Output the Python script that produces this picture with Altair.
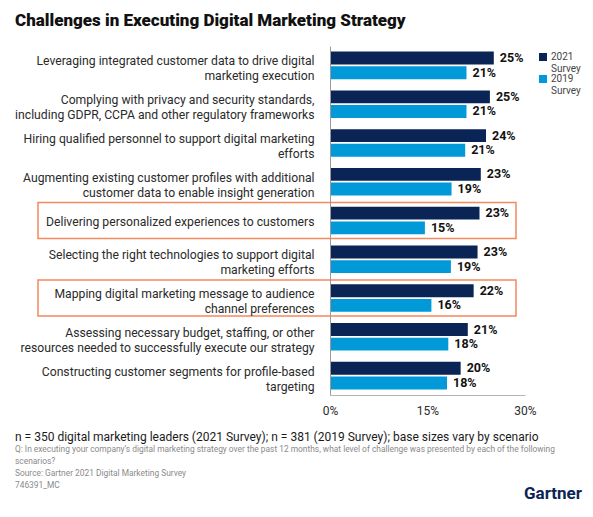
import altair as alt
import pandas as pd

categories = [
    "Leveraging integrated customer data to drive digital|marketing execution",
    "Complying with privacy and security standards,|including GDPR, CCPA and other regulatory frameworks",
    "Hiring qualified personnel to support digital marketing|efforts",
    "Augmenting existing customer profiles with additional|customer data to enable insight generation",
    "Delivering personalized experiences to customers",
    "Selecting the right technologies to support digital|marketing efforts",
    "Mapping digital marketing message to audience|channel preferences",
    "Assessing necessary budget, staffing, or other|resources needed to successfully execute our strategy",
    "Constructing customer segments for profile-based|targeting",
]
survey_2021 = [25.2, 24.6, 24.0, 23.2, 23.0, 22.7, 22.1, 21.2, 20.1]
survey_2019 = [21.0, 21.0, 20.8, 18.7, 14.6, 18.6, 15.6, 18.2, 18.0]
series = ["2021 Survey", "2019 Survey"]
highlighted = [categories[4], categories[6]]
x_ticks = [0, 15, 30]

title = "Challenges in Executing Digital Marketing Strategy"
base_note = "n = 350 digital marketing leaders (2021 Survey); n = 381 (2019 Survey); base sizes vary by scenario"
small_notes = [
    "Q: In executing your company\u2019s digital marketing strategy over the past 12 months, what level of challenge was presented by each of the following",
    "scenarios?",
    "Source: Gartner 2021 Digital Marketing Survey",
    "746391_MC",
]

rows = []
for cat, a, b in zip(categories, survey_2021, survey_2019):
    rows.append({"label": cat, "survey": series[0], "value": a})
    rows.append({"label": cat, "survey": series[1], "value": b})
df = pd.DataFrame(rows)
df["text"] = df["value"].round().astype(int).astype(str) + "%"

FONT = "Roboto"

y_enc = alt.Y(
    "label:N",
    sort=categories,
    title=None,
    scale=alt.Scale(paddingInner=0.29, paddingOuter=0.145),
    axis=alt.Axis(
        labelExpr="split(datum.label, '|')",
        labelFont=FONT,
        labelFontSize=12.2,
        labelColor="#2b2b2b",
        labelLineHeight=15,
        # two-line labels move up about half a line so they sit centred on the band
        labelOffset={"condition": {"test": "indexof(datum.value, '|') >= 0", "value": -4}, "value": 1.5},
        labelPadding=16,
        labelLimit=320,
        ticks=False,
        domainColor="#9a9a9a",
    ),
)
off_enc = alt.YOffset("survey:N", sort=series, scale=alt.Scale(paddingInner=0.12))
x_enc = alt.X(
    "value:Q",
    title=None,
    scale=alt.Scale(domain=[0, 30]),
    axis=alt.Axis(
        values=x_ticks,
        labelExpr="datum.value + '%'",
        labelFont=FONT,
        labelFontSize=12,
        labelColor="#2b2b2b",
        labelPadding=10,
        labelFlush=False,
        ticks=False,
        grid=False,
        domainColor="#b5b5b5",
    ),
)

base = alt.Chart(df)

bars = base.mark_bar().encode(
    y=y_enc,
    yOffset=off_enc,
    x=x_enc,
    color=alt.Color(
        "survey:N",
        sort=series,
        scale=alt.Scale(domain=series, range=["#0b2456", "#0199d8"]),
        legend=alt.Legend(
            title=None,
            orient="none",
            legendX=208,
            legendY=6,
            symbolType="square",
            symbolSize=64,
            symbolStrokeWidth=0,
            labelExpr="split(datum.label, ' ')",
            labelFont=FONT,
            labelFontSize=10,
            labelColor="#444444",
            labelBaseline="middle",
            labelOffset=3,
            rowPadding=-4,
        ),
    ),
)

labels = base.mark_text(
    align="left", baseline="middle", dx=6, font=FONT, fontSize=12.5, fontWeight="bold", color="#111111"
).encode(y=y_enc, yOffset=off_enc, x="value:Q", text="text:N")

boxes = (
    alt.Chart(pd.DataFrame({"label": highlighted}))
    .mark_rect(height=36, filled=False, stroke="#f4895e", strokeWidth=1.5)
    .encode(y=alt.Y("label:N", sort=categories), x=alt.value(-292), x2=alt.value(186))
)

note_n = alt.Chart(pd.DataFrame({"t": [base_note]})).mark_text(
    align="left", baseline="middle", font=FONT, fontSize=12, color="#1a1a1a"
).encode(text="t:N", x=alt.value(-315), y=alt.value(391))

note_small = alt.Chart(pd.DataFrame({"t": [0]})).mark_text(
    align="left", baseline="middle", font=FONT, fontSize=8.4, color="#8a8a8a", lineHeight=12
).encode(text=alt.value(small_notes), x=alt.value(-315), y=alt.value(403))

logo = alt.Chart(pd.DataFrame({"t": ["Gartner"]})).mark_text(
    align="right", baseline="bottom", font=FONT, fontSize=17, fontWeight="bold", color="#0b2456"
).encode(text="t:N", x=alt.value(252), y=alt.value(457))

chart = (
    alt.layer(boxes, bars, labels, note_n, note_small, logo)
    .properties(
        width=195,
        height=349,
        autosize=alt.AutoSizeParams(type="none"),
        padding={"left": 322, "top": 38, "right": 60, "bottom": 110},
        title=alt.TitleParams(
            title,
            anchor="start",
            frame="group",
            dx=-315,
            offset=16,
            font=FONT,
            fontSize=17,
            fontWeight=900,
            color="#111111",
        ),
    )
    .configure_view(stroke=None)
)

chart.save("out.html", embed_options={"renderer": "svg", "actions": False})
